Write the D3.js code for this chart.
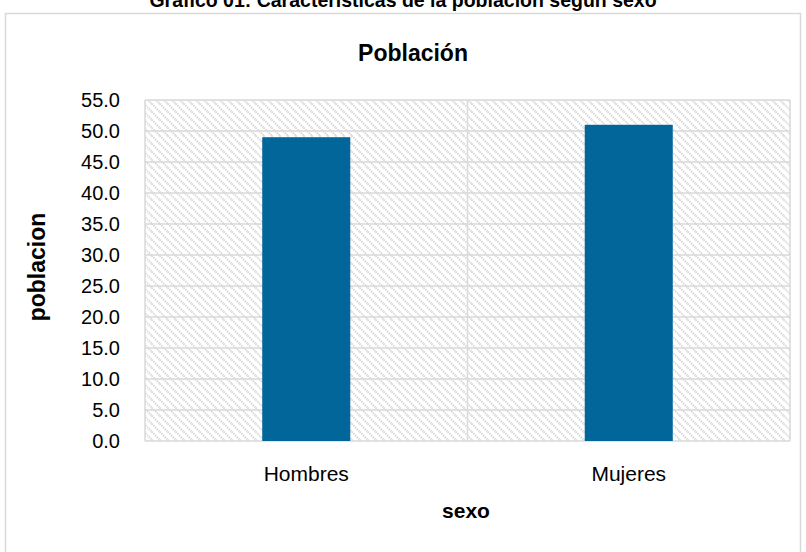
<!DOCTYPE html>
<html><head><meta charset="utf-8">
<script src="https://cdn.jsdelivr.net/npm/d3@7"></script>
<style>html,body{margin:0;padding:0;background:#fff;}svg{display:block;font-family:"Liberation Sans",Arial,sans-serif;}</style>
</head><body>
<script>
const categories = ["Hombres", "Mujeres"];
const values = [49.0, 51.0];
const yTicks = [0, 5, 10, 15, 20, 25, 30, 35, 40, 45, 50, 55];
const pageTitle = "Gráfico 01: Características de la población según sexo";
const chartTitle = "Población";
const xTitle = "sexo";
const yTitle = "poblacion";

const W = 806, H = 552;
const svg = d3.select("body").append("svg").attr("width", W).attr("height", H);
const defs = svg.append("defs");
const pat = defs.append("pattern").attr("id", "hatch").attr("patternUnits", "userSpaceOnUse")
  .attr("width", 8).attr("height", 8);
pat.append("rect").attr("width", 8).attr("height", 8).attr("fill", "#fff");
pat.append("path").attr("d", "M-2,-2 L10,10 M-2,6 L2,10 M6,-2 L10,2")
  .attr("stroke", "#d6d6d6").attr("stroke-width", 2).attr("stroke-dasharray", "1.4,1");

// page title (partly cut off, as in the reference)
svg.append("text").attr("x", 403).attr("y", 7).attr("text-anchor", "middle")
  .attr("font-weight", "bold").attr("font-size", 19.5).text(pageTitle);

// chart area border
svg.append("rect").attr("x", 5.5).attr("y", 13.5).attr("width", 795).attr("height", 560)
  .attr("fill", "none").attr("stroke", "#d9d9d9").attr("stroke-width", 1.5);

const m = {left: 145, right: 790, top: 100, bottom: 441};
const x = d3.scaleBand().domain(categories).range([m.left, m.right]).paddingInner(0).paddingOuter(0);
const y = d3.scaleLinear().domain([0, 55]).range([m.bottom, m.top]);

svg.append("rect").attr("x", m.left).attr("y", m.top).attr("width", m.right - m.left)
  .attr("height", m.bottom - m.top).attr("fill", "url(#hatch)");

// horizontal gridlines
svg.append("g").selectAll("line").data(yTicks).join("line")
  .attr("x1", m.left).attr("x2", m.right).attr("y1", d => y(d)).attr("y2", d => y(d))
  .attr("stroke", "#d9d9d9").attr("stroke-width", 1.5);
// vertical gridlines at band edges
const edges = categories.map(c => x(c)).concat([x(categories[categories.length - 1]) + x.bandwidth()]);
svg.append("g").selectAll("line").data(edges).join("line")
  .attr("x1", d => d).attr("x2", d => d).attr("y1", m.top).attr("y2", m.bottom)
  .attr("stroke", "#d9d9d9").attr("stroke-width", 1.5);

// bars
const bw = x.bandwidth() * 0.273;
svg.append("g").selectAll("rect").data(values).join("rect")
  .attr("x", (d, i) => x(categories[i]) + x.bandwidth() / 2 - bw / 2)
  .attr("width", bw)
  .attr("y", d => y(d)).attr("height", d => y(0) - y(d))
  .attr("fill", "#02669b");

// y axis labels
const ya = svg.append("g").attr("transform", `translate(${m.left},0)`)
  .call(d3.axisLeft(y).tickValues(yTicks).tickFormat(d3.format(".1f")).tickSize(0).tickPadding(25));
ya.select(".domain").remove();
ya.selectAll("text").attr("font-size", 20).attr("font-family", "Liberation Sans, Arial, sans-serif").attr("fill", "#000");

// x axis labels
const xa = svg.append("g").attr("transform", `translate(0,${m.bottom})`)
  .call(d3.axisBottom(x).tickSize(0).tickPadding(25));
xa.select(".domain").remove();
xa.selectAll("text").attr("font-size", 21).attr("font-family", "Liberation Sans, Arial, sans-serif").attr("fill", "#000");

// titles
svg.append("text").attr("x", 413).attr("y", 61).attr("text-anchor", "middle")
  .attr("font-weight", "bold").attr("font-size", 23).text(chartTitle);
svg.append("text").attr("x", 466).attr("y", 518).attr("text-anchor", "middle")
  .attr("font-weight", "bold").attr("font-size", 21).text(xTitle);
svg.append("text").attr("transform", "translate(45,267) rotate(-90)").attr("text-anchor", "middle")
  .attr("font-weight", "bold").attr("font-size", 23).text(yTitle);
</script>
</body></html>
